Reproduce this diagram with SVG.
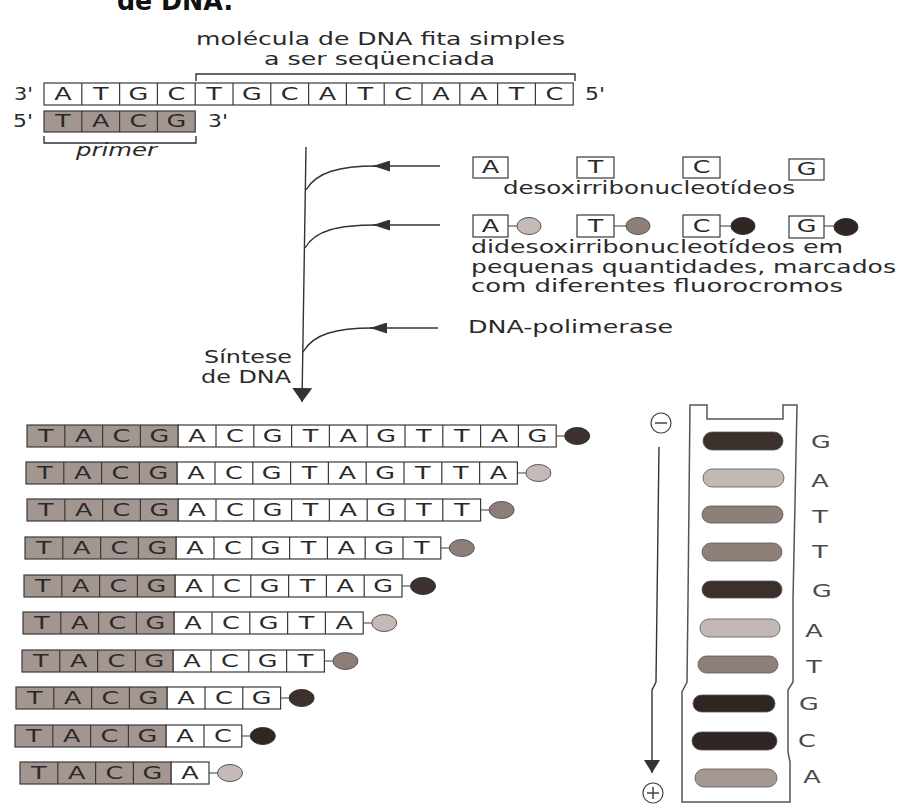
<svg xmlns="http://www.w3.org/2000/svg" width="898" height="812" viewBox="0 0 898 812">
<style>
.t{font-family:'DejaVu Sans','Liberation Sans',sans-serif;font-size:17px;fill:#2a2a2a}
.b{font-family:'DejaVu Sans','Liberation Sans',sans-serif;font-size:17px;fill:#2a2a2a;text-anchor:middle}
.gl{font-family:'DejaVu Sans','Liberation Sans',sans-serif;font-size:17px;fill:#4a4a4a;text-anchor:middle}
.bx{fill:#fff;stroke:#3a3a3a;stroke-width:1.2}
.pr{fill:#a39690;stroke:#3a3a3a;stroke-width:1.2}
.sep{fill:none;stroke:#3a3a3a;stroke-width:1.2}
.ln{fill:none;stroke:#333;stroke-width:1.4}
.cA{fill:#c4bbb7;stroke:#555;stroke-width:1}
.cT{fill:#8d7e77;stroke:#555;stroke-width:1}
.cG{fill:#3d312d;stroke:#333;stroke-width:1}
.cC{fill:#302623;stroke:#333;stroke-width:1}
.band{stroke:#555;stroke-width:0.8}
</style>
<defs>
<marker id="ah" markerUnits="userSpaceOnUse" markerWidth="17" markerHeight="11" viewBox="0 0 17 11" refX="17" refY="5.5" orient="auto"><path d="M0,0 L17,5.5 L0,11 Z" fill="#333"/></marker>
<marker id="ahBig" markerUnits="userSpaceOnUse" markerWidth="14" markerHeight="20" viewBox="0 0 14 20" refX="14" refY="10" orient="auto"><path d="M0,0 L14,10 L0,20 Z" fill="#333"/></marker>
<marker id="ahGel" markerUnits="userSpaceOnUse" markerWidth="13" markerHeight="16" viewBox="0 0 13 16" refX="13" refY="8" orient="auto"><path d="M0,0 L13,8 L0,16 Z" fill="#333"/></marker>
</defs>
<rect width="898" height="812" fill="#fff"/>

<g id="title">
<text x="117" y="10" font-family="'DejaVu Sans','Liberation Sans',sans-serif" font-weight="bold" font-size="26" fill="#111" textLength="116" lengthAdjust="spacingAndGlyphs">de DNA.</text>
</g>

<g id="template-label">
<text class="t" x="196" y="45" textLength="369" lengthAdjust="spacingAndGlyphs">molécula de DNA fita simples</text>
<text class="t" x="264" y="65" textLength="231" lengthAdjust="spacingAndGlyphs">a ser seqüenciada</text>
<path class="ln" d="M196,81 V74 H575 V81"/>
</g>

<g id="template-strand">
<text class="t" x="14" y="100" textLength="19" lengthAdjust="spacingAndGlyphs">3'</text>
<g transform="translate(44,83)">
<rect class="bx" x="0" y="0" width="529.2" height="22"/>
<path class="sep" d="M37.8,0V22M75.6,0V22M113.4,0V22M151.2,0V22M189,0V22M226.8,0V22M264.6,0V22M302.4,0V22M340.2,0V22M378,0V22M415.8,0V22M453.6,0V22M491.4,0V22"/>
<text class="b" transform="scale(1.5,1)" x="12.6 37.8 63 88.2 113.4 138.6 163.8 189 214.2 239.4 264.6 289.8 315 340.2" y="17">ATGCTGCATCAATC</text>
</g>
<text class="t" x="585" y="100" textLength="20" lengthAdjust="spacingAndGlyphs">5'</text>
</g>

<g id="primer">
<text class="t" x="13" y="127" textLength="20" lengthAdjust="spacingAndGlyphs">5'</text>
<g transform="translate(44,111)">
<rect class="pr" x="0" y="0" width="151.2" height="21"/>
<path class="sep" d="M37.8,0V21M75.6,0V21M113.4,0V21"/>
<text class="b" transform="scale(1.5,1)" x="12.6 37.8 63 88.2" y="16.5">TACG</text>
</g>
<text class="t" x="208" y="127" textLength="20" lengthAdjust="spacingAndGlyphs">3'</text>
<path class="ln" d="M44,136 V143 H196 V136"/>
<text class="t" x="76" y="156" font-style="italic" textLength="81" lengthAdjust="spacingAndGlyphs">primer</text>
</g>

<g id="dntp">
<rect class="bx" x="473" y="157" width="35" height="21"/>
<rect class="bx" x="577" y="157" width="37" height="21"/>
<rect class="bx" x="683" y="157" width="37" height="21"/>
<rect class="bx" x="789" y="159" width="35" height="21"/>
<text class="b" transform="scale(1.5,1)" x="327 397 467.7" y="173">ATC</text>
<text class="b" transform="scale(1.5,1)" x="537.7" y="175">G</text>
<text class="t" x="503" y="194" textLength="292" lengthAdjust="spacingAndGlyphs">desoxirribonucleotídeos</text>
</g>

<g id="ddntp">
<rect class="bx" x="473" y="215" width="35" height="22"/>
<rect class="bx" x="577" y="215" width="37" height="22"/>
<rect class="bx" x="683" y="215" width="37" height="22"/>
<rect class="bx" x="789" y="216" width="35" height="22"/>
<text class="b" transform="scale(1.5,1)" x="327 397 467.7 537.7" y="232">ATCG</text>
<path class="sep" d="M508,226H517M614,226H626M720,226H731M824,226H834"/>
<ellipse class="cA" cx="529" cy="226" rx="12" ry="8.5"/>
<ellipse class="cT" cx="638" cy="226" rx="12" ry="8.5"/>
<ellipse class="cC" cx="743" cy="226" rx="12" ry="8.5"/>
<ellipse class="cC" cx="846" cy="227" rx="12" ry="8.5"/>
<text class="t" x="471" y="253" textLength="372" lengthAdjust="spacingAndGlyphs">didesoxirribonucleotídeos em</text>
<text class="t" x="471" y="273" textLength="425" lengthAdjust="spacingAndGlyphs">pequenas quantidades, marcados</text>
<text class="t" x="471" y="292" textLength="372" lengthAdjust="spacingAndGlyphs">com diferentes fluorocromos</text>
</g>

<g id="polymerase">
<text class="t" x="468" y="333" textLength="205" lengthAdjust="spacingAndGlyphs">DNA-polimerase</text>
</g>

<g id="synthesis-label">
<text class="t" x="292" y="363" text-anchor="end" textLength="88" lengthAdjust="spacingAndGlyphs">Síntese</text>
<text class="t" x="291" y="383" text-anchor="end" textLength="90" lengthAdjust="spacingAndGlyphs">de DNA</text>
</g>

<g id="connectors">
<path class="ln" d="M306,147 L302,402" marker-end="url(#ahBig)"/>
<path class="ln" d="M306,190 C316,172 340,166 376,166"/>
<path class="ln" d="M440,166 H373" marker-end="url(#ah)"/>
<path class="ln" d="M305,248 C315,230 339,225 376,225"/>
<path class="ln" d="M440,225 H373" marker-end="url(#ah)"/>
<path class="ln" d="M303,352 C313,334 336,328 373,328"/>
<path class="ln" d="M438,328 H370" marker-end="url(#ah)"/>
<path class="ln" d="M659,447 L656,682 L652,690 L652,773" marker-end="url(#ahGel)"/>
</g>

<g id="strand1" transform="translate(27,425)">
<rect class="pr" x="0" y="0" width="151.2" height="22"/>
<rect class="bx" x="151.2" y="0" width="378" height="22"/>
<path class="sep" d="M37.8,0V22M75.6,0V22M113.4,0V22M189,0V22M226.8,0V22M264.6,0V22M302.4,0V22M340.2,0V22M378,0V22M415.8,0V22M453.6,0V22M491.4,0V22M529.2,11H537.7"/>
<text class="b" transform="scale(1.5,1)" x="12.6 37.8 63 88.2 113.4 138.6 163.8 189 214.2 239.4 264.6 289.8 315 340.2" y="17">TACGACGTAGTTAG</text>
<ellipse class="cG" cx="550.2" cy="11" rx="12.5" ry="8.5"/>
</g>
<g id="strand2" transform="translate(26,462)">
<rect class="pr" x="0" y="0" width="151.2" height="22"/>
<rect class="bx" x="151.2" y="0" width="340.2" height="22"/>
<path class="sep" d="M37.8,0V22M75.6,0V22M113.4,0V22M189,0V22M226.8,0V22M264.6,0V22M302.4,0V22M340.2,0V22M378,0V22M415.8,0V22M453.6,0V22M491.4,11H499.9"/>
<text class="b" transform="scale(1.5,1)" x="12.6 37.8 63 88.2 113.4 138.6 163.8 189 214.2 239.4 264.6 289.8 315" y="17">TACGACGTAGTTA</text>
<ellipse class="cA" cx="512.4" cy="11" rx="12.5" ry="8.5"/>
</g>
<g id="strand3" transform="translate(27,499)">
<rect class="pr" x="0" y="0" width="151.2" height="22"/>
<rect class="bx" x="151.2" y="0" width="302.4" height="22"/>
<path class="sep" d="M37.8,0V22M75.6,0V22M113.4,0V22M189,0V22M226.8,0V22M264.6,0V22M302.4,0V22M340.2,0V22M378,0V22M415.8,0V22M453.6,11H462.1"/>
<text class="b" transform="scale(1.5,1)" x="12.6 37.8 63 88.2 113.4 138.6 163.8 189 214.2 239.4 264.6 289.8" y="17">TACGACGTAGTT</text>
<ellipse class="cT" cx="474.6" cy="11" rx="12.5" ry="8.5"/>
</g>
<g id="strand4" transform="translate(25,537)">
<rect class="pr" x="0" y="0" width="151.2" height="22"/>
<rect class="bx" x="151.2" y="0" width="264.6" height="22"/>
<path class="sep" d="M37.8,0V22M75.6,0V22M113.4,0V22M189,0V22M226.8,0V22M264.6,0V22M302.4,0V22M340.2,0V22M378,0V22M415.8,11H424.3"/>
<text class="b" transform="scale(1.5,1)" x="12.6 37.8 63 88.2 113.4 138.6 163.8 189 214.2 239.4 264.6" y="17">TACGACGTAGT</text>
<ellipse class="cT" cx="436.8" cy="11" rx="12.5" ry="8.5"/>
</g>
<g id="strand5" transform="translate(24,575)">
<rect class="pr" x="0" y="0" width="151.2" height="22"/>
<rect class="bx" x="151.2" y="0" width="226.8" height="22"/>
<path class="sep" d="M37.8,0V22M75.6,0V22M113.4,0V22M189,0V22M226.8,0V22M264.6,0V22M302.4,0V22M340.2,0V22M378,11H386.5"/>
<text class="b" transform="scale(1.5,1)" x="12.6 37.8 63 88.2 113.4 138.6 163.8 189 214.2 239.4" y="17">TACGACGTAG</text>
<ellipse class="cG" cx="399" cy="11" rx="12.5" ry="8.5"/>
</g>
<g id="strand6" transform="translate(23,612)">
<rect class="pr" x="0" y="0" width="151.2" height="22"/>
<rect class="bx" x="151.2" y="0" width="189" height="22"/>
<path class="sep" d="M37.8,0V22M75.6,0V22M113.4,0V22M189,0V22M226.8,0V22M264.6,0V22M302.4,0V22M340.2,11H348.7"/>
<text class="b" transform="scale(1.5,1)" x="12.6 37.8 63 88.2 113.4 138.6 163.8 189 214.2" y="17">TACGACGTA</text>
<ellipse class="cA" cx="361.2" cy="11" rx="12.5" ry="8.5"/>
</g>
<g id="strand7" transform="translate(22,650)">
<rect class="pr" x="0" y="0" width="151.2" height="22"/>
<rect class="bx" x="151.2" y="0" width="151.2" height="22"/>
<path class="sep" d="M37.8,0V22M75.6,0V22M113.4,0V22M189,0V22M226.8,0V22M264.6,0V22M302.4,11H310.9"/>
<text class="b" transform="scale(1.5,1)" x="12.6 37.8 63 88.2 113.4 138.6 163.8 189" y="17">TACGACGT</text>
<ellipse class="cT" cx="323.4" cy="11" rx="12.5" ry="8.5"/>
</g>
<g id="strand8" transform="translate(16,687)">
<rect class="pr" x="0" y="0" width="151.2" height="22"/>
<rect class="bx" x="151.2" y="0" width="113.4" height="22"/>
<path class="sep" d="M37.8,0V22M75.6,0V22M113.4,0V22M189,0V22M226.8,0V22M264.6,11H273.1"/>
<text class="b" transform="scale(1.5,1)" x="12.6 37.8 63 88.2 113.4 138.6 163.8" y="17">TACGACG</text>
<ellipse class="cG" cx="285.6" cy="11" rx="12.5" ry="8.5"/>
</g>
<g id="strand9" transform="translate(15,725)">
<rect class="pr" x="0" y="0" width="151.2" height="22"/>
<rect class="bx" x="151.2" y="0" width="75.6" height="22"/>
<path class="sep" d="M37.8,0V22M75.6,0V22M113.4,0V22M189,0V22M226.8,11H235.3"/>
<text class="b" transform="scale(1.5,1)" x="12.6 37.8 63 88.2 113.4 138.6" y="17">TACGAC</text>
<ellipse class="cC" cx="247.8" cy="11" rx="12.5" ry="8.5"/>
</g>
<g id="strand10" transform="translate(20,762)">
<rect class="pr" x="0" y="0" width="151.2" height="22"/>
<rect class="bx" x="151.2" y="0" width="37.8" height="22"/>
<path class="sep" d="M37.8,0V22M75.6,0V22M113.4,0V22M189,11H197.5"/>
<text class="b" transform="scale(1.5,1)" x="12.6 37.8 63 88.2 113.4" y="17">TACGA</text>
<ellipse class="cA" cx="210" cy="11" rx="12.5" ry="8.5"/>
</g>

<g id="gel">
<path d="M682,802 L682,692 L687,682 L688,600 L690,405 L707,405 L707,419 L783,419 L783,405 L797,405 L793,600 L793,682 L788,690 L788,752 L790,762 L790,802 Z" fill="#fff" stroke="#555" stroke-width="1.5"/>
<rect class="band" x="703" y="432" width="80" height="18" rx="9" fill="#3b302c"/>
<rect class="band" x="703" y="469" width="81" height="18" rx="9" fill="#c2b8b4"/>
<rect class="band" x="702" y="506" width="81" height="17" rx="8.5" fill="#8e7f78"/>
<rect class="band" x="702" y="543" width="80" height="18" rx="9" fill="#8e7f78"/>
<rect class="band" x="702" y="581" width="80" height="17" rx="8.5" fill="#3b302c"/>
<rect class="band" x="700" y="619" width="80" height="18" rx="9" fill="#c2b8b4"/>
<rect class="band" x="698" y="656" width="80" height="17" rx="8.5" fill="#8e7f78"/>
<rect class="band" x="693" y="695" width="82" height="17" rx="8.5" fill="#2f2522"/>
<rect class="band" x="692" y="732" width="85" height="18" rx="9" fill="#2f2522"/>
<rect class="band" x="695" y="769" width="82" height="18" rx="9" fill="#a59893"/>
<text class="gl" transform="scale(1.5,1)" x="547.3" y="448">G</text>
<text class="gl" transform="scale(1.5,1)" x="546.7" y="487">A</text>
<text class="gl" transform="scale(1.5,1)" x="546.7" y="523">T</text>
<text class="gl" transform="scale(1.5,1)" x="546.7" y="558">T</text>
<text class="gl" transform="scale(1.5,1)" x="548" y="597">G</text>
<text class="gl" transform="scale(1.5,1)" x="542.7" y="637">A</text>
<text class="gl" transform="scale(1.5,1)" x="542.7" y="673">T</text>
<text class="gl" transform="scale(1.5,1)" x="539.3" y="710">G</text>
<text class="gl" transform="scale(1.5,1)" x="538" y="747">C</text>
<text class="gl" transform="scale(1.5,1)" x="541.3" y="783">A</text>
</g>

<g id="electrode-minus">
<circle cx="661" cy="423" r="10" fill="#fff" stroke="#444" stroke-width="1.2"/>
<path d="M655,423 H667" stroke="#444" stroke-width="1.5"/>
</g>
<g id="electrode-plus">
<circle cx="653" cy="793" r="10" fill="#fff" stroke="#444" stroke-width="1.2"/>
<path d="M647,793 H659 M653,787 V799" stroke="#444" stroke-width="1.5"/>
</g>
</svg>
